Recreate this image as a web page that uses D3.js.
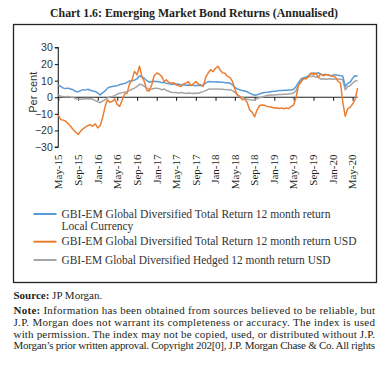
<!DOCTYPE html>
<html><head><meta charset="utf-8">
<script src="https://cdn.jsdelivr.net/npm/d3@7/dist/d3.min.js"></script>
<style>
html,body{margin:0;padding:0;background:#fff;}
svg{display:block;}
</style></head>
<body>
<svg id="c" width="385" height="365"></svg>
<script>
// ---- data (semi-monthly observations starting 1 May 2015) ----
const startDate = "2015-05-01";
const localCurrency = [7.4,6.5,5.5,5.3,5.5,5.0,4.5,3.6,3.2,4.0,4.6,4.3,4.8,4.2,3.8,3.5,2.5,1.4,2.8,3.8,
5.5,6.2,6.5,6.8,7.0,7.5,8.0,8.3,9.0,9.8,10.0,10.3,11.2,13.0,12.0,11.5,10.0,9.0,9.5,9.6,
9.5,9.3,8.8,9.0,8.5,8.2,8.0,7.8,8.0,7.8,7.5,7.6,7.3,7.4,7.3,7.2,7.0,7.2,7.0,7.4,
8.5,9.5,9.3,9.4,9.2,9.3,9.0,9.0,8.8,8.7,8.5,7.5,6.0,5.0,4.5,4.0,3.8,3.3,2.5,1.8,
1.2,1.5,2.0,2.6,2.9,3.0,3.2,3.4,3.6,3.8,4.0,4.0,4.2,4.2,4.3,4.4,4.8,6.5,9.0,11.0,
11.8,12.0,13.0,14.0,14.6,14.2,14.8,13.8,13.6,13.8,13.4,13.0,13.3,13.5,13.3,13.0,12.8,6.5,8.5,9.0,
11.5,13.0,12.8];
const totalUSD = [-10.8,-13.5,-13.8,-14.5,-15.9,-17.5,-19.5,-21.0,-22.5,-20.5,-19.0,-18.0,-17.0,-16.5,-17.5,-16.0,-18.5,-17.0,-12.0,-5.5,
-1.6,-3.0,-2.5,-1.0,-4.5,-5.5,-1.5,2.0,2.5,8.0,10.5,15.6,13.6,18.7,12.6,9.5,4.0,3.8,7.5,13.0,
14.6,14.0,12.6,9.5,10.5,9.0,8.5,8.8,7.5,7.0,6.5,8.0,8.5,9.5,7.0,8.0,9.5,8.0,7.5,6.5,
12.0,14.6,16.6,15.5,17.5,18.7,16.0,14.6,14.5,12.6,12.0,9.5,5.0,1.5,0.4,-1.6,-1.0,-3.0,-7.7,-9.0,
-11.8,-7.7,-5.0,-4.7,-4.8,-5.5,-5.7,-6.0,-6.5,-6.3,-6.8,-6.5,-7.0,-6.5,-6.8,-5.5,-4.7,0.0,7.5,9.0,
11.5,11.0,12.5,14.6,13.8,14.6,12.0,14.0,13.0,13.5,13.6,13.0,12.6,12.0,9.5,8.5,-3.0,-11.4,-7.0,-6.0,
-4.0,-1.6,5.5];
const hedgedUSD = [1.4,0.6,0.4,0.3,0.5,0.2,0.0,-0.8,-1.3,-1.0,-1.2,-0.8,-1.0,-0.9,-1.2,-2.0,-2.8,-3.3,-2.2,-1.5,
-0.5,0.3,0.5,1.0,2.0,2.4,2.8,3.0,3.4,4.0,4.8,5.5,6.5,7.8,7.5,6.5,5.5,4.8,5.0,5.3,
5.5,5.2,4.5,5.0,4.2,3.6,3.0,2.8,2.9,2.6,2.8,2.5,2.3,2.5,2.4,2.2,2.5,2.3,3.0,3.4,
4.0,4.8,5.0,4.9,4.9,5.0,4.8,4.8,4.6,4.5,4.5,4.0,3.0,1.5,0.4,0.0,-0.8,-1.2,-1.5,-1.6,
-1.8,-0.8,-0.3,0.2,0.6,1.0,1.2,1.4,1.3,1.5,1.6,1.6,1.8,1.8,2.0,2.2,2.6,4.0,7.5,10.0,
11.0,11.8,12.4,12.5,12.8,12.2,12.0,11.0,11.2,10.8,11.0,11.2,10.8,11.0,11.0,10.8,10.5,4.5,6.5,7.0,
8.5,9.8,10.0];
const yTicks = [30,20,10,0,-10,-20,-30];
const xTickStart = "2015-05-01", xTickEnd = "2020-05-01"; // ticks every 4 months
const seriesNames = [
  ["GBI-EM Global Diversified Total Return 12 month return", "Local Currency"],
  ["GBI-EM Global Diversified Total Return 12 month return", "USD"],
  ["GBI-EM Global Diversified Hedged 12 month return USD"]
];
const seriesColors = ["#5b9bd5", "#ed7d31", "#a5a5a5"];
const titleText = "Chart 1.6: Emerging Market Bond Returns (Annualised)";
const yLabel = "Per cent";
const noteLines = [
  "Information has been obtained from sources believed to be reliable, but",
  "J.P. Morgan does not warrant its completeness or accuracy. The index is used",
  "with permission. The index may not be copied, used, or distributed without J.P.",
  "Morgan\u2019s prior written approval. Copyright 202[0], J.P. Morgan Chase & Co. All rights"
];

// ---- build ----
const parse = d3.timeParse("%Y-%m-%d");
const t0 = parse(startDate);
const dates = localCurrency.map((_, i) => {
  const m = d3.timeMonth.offset(t0, Math.floor(i / 2));
  return i % 2 ? d3.timeDay.offset(m, 15) : m;
});
const series = [localCurrency, totalUSD, hedgedUSD];

const svg = d3.select("#c");
const serif = "'Liberation Serif', 'Times New Roman', serif";
const sans = "'Liberation Sans', Arial, sans-serif";

// frame
svg.append("rect").attr("x", 13.5).attr("y", 24.5).attr("width", 363).attr("height", 258)
  .attr("fill", "none").attr("stroke", "#222").attr("stroke-width", 1.3);

// title
svg.append("text").attr("x", 194).attr("y", 16.5).attr("text-anchor", "middle")
  .attr("font-family", serif).attr("font-weight", "bold").attr("font-size", 12.5)
  .attr("fill", "#231f20").attr("textLength", 288).attr("lengthAdjust", "spacingAndGlyphs")
  .text(titleText);

const x = d3.scaleTime().domain([parse(xTickStart), parse(xTickEnd)]).range([58.3, 352.6]);
const y = d3.scaleLinear().domain([-30, 30]).range([147, 47.5]);

// y axis
const ya = svg.append("g").attr("transform", "translate(58.3,0)")
  .call(d3.axisLeft(y).tickValues(yTicks).tickSize(3.5).tickPadding(2).tickFormat(d3.format("d")));
ya.select(".domain").attr("stroke", "#222").attr("stroke-width", 1.1).attr("d", `M-3.5,${y(30)}H0V${y(-30)}H-3.5`);
ya.selectAll(".tick line").attr("stroke", "#222").attr("stroke-width", 1.1);
ya.selectAll(".tick text").attr("font-family", sans).attr("font-size", 10.5).attr("fill", "#333");

svg.append("text").attr("transform", `translate(36.5,${(y(30) + y(-30)) / 2 - 5}) rotate(-90)`)
  .attr("text-anchor", "middle").attr("font-family", sans).attr("font-size", 11).attr("fill", "#333")
  .text(yLabel);

// x axis on zero line
const xTicks = d3.timeMonth.every(4).range(parse(xTickStart), d3.timeDay.offset(parse(xTickEnd), 1));
const xa = svg.append("g").attr("transform", `translate(0,${y(0)})`)
  .call(d3.axisBottom(x).tickValues(xTicks).tickSize(3.5).tickFormat(""));
xa.select(".domain").attr("stroke", "#222").attr("stroke-width", 1.1)
  .attr("d", `M58.3,0H${x(dates[dates.length - 1])}`);
xa.selectAll(".tick line").attr("stroke", "#222").attr("stroke-width", 1.1);

// x labels at bottom
const fmt = d3.timeFormat("%b-%y");
svg.append("g").selectAll("text").data(xTicks).join("text")
  .attr("transform", d => `translate(${x(d) + 3.8},154.5) rotate(-90)`)
  .attr("text-anchor", "end").attr("font-family", serif).attr("font-size", 11).attr("fill", "#231f20")
  .text(d => fmt(d));

// lines
const line = d3.line().x((d, i) => x(dates[i])).y(d => y(d));
[2, 0, 1].forEach(k => {
  svg.append("path").datum(series[k]).attr("d", line).attr("fill", "none")
    .attr("stroke", seriesColors[k]).attr("stroke-width", 1.5).attr("stroke-linejoin", "round");
});

// legend
const legY = [214, 241.7, 260];
const lg = svg.append("g");
const legText = (tx, ty, s, len) => {
  const t = lg.append("text").attr("x", tx).attr("y", ty).attr("font-family", serif)
    .attr("font-size", 11.5).attr("fill", "#333").text(s);
  if (len) t.attr("textLength", len).attr("lengthAdjust", "spacingAndGlyphs");
  return t;
};
seriesNames.forEach((nm, k) => {
  lg.append("line").attr("x1", 33.5).attr("x2", 56.5).attr("y1", legY[k]).attr("y2", legY[k])
    .attr("stroke", seriesColors[k]).attr("stroke-width", 2);
  legText(61.5, legY[k] + 3.5, nm[0], 269);
  if (k === 0) legText(61.5, legY[k] + 15.5, nm[1]);
  if (k === 1) legText(333.5, legY[k] + 3.5, nm[1]);
});

// source & note
const src = svg.append("text").attr("x", 13.5).attr("y", 299).attr("font-family", serif).attr("font-size", 11).attr("fill", "#231f20");
src.append("tspan").attr("font-weight", "bold").text("Source: ");
src.append("tspan").text("JP Morgan.");

noteLines.forEach((ln, i) => {
  const t = svg.append("text").attr("x", 13.5).attr("y", 314 + i * 11.8)
    .attr("font-family", serif).attr("font-size", 11).attr("fill", "#231f20")
    .attr("textLength", 361.5).attr("lengthAdjust", "spacing");
  if (i === 0) { t.append("tspan").attr("font-weight", "bold").text("Note: "); }
  t.append("tspan").text(ln);
});
</script>
</body></html>
